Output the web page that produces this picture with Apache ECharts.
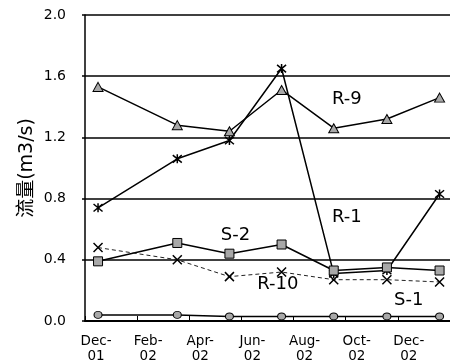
<!DOCTYPE html>
<html>
<head>
<meta charset="utf-8">
<script src="https://cdn.jsdelivr.net/npm/echarts@6/dist/echarts.min.js"></script>
<style>html,body{margin:0;padding:0;background:#fff;}#c{width:450px;height:364px;}</style>
</head>
<body>
<div id="c"></div>
<script>
// x positions: months after 1 Dec 2001 (sampling dates)
var months = [0.5, 3.54, 5.54, 7.54, 9.54, 11.58, 13.6];
// tick labels every 2 months from Dec-01
var tickLabels = ['Dec-\n01', 'Feb-\n02', 'Apr-\n02', 'Jun-\n02', 'Aug-\n02', 'Oct-\n02', 'Dec-\n02'];
var yTicks = [0, 0.4, 0.8, 1.2, 1.6, 2.0];

var R9  = [1.53, 1.28, 1.24, 1.51, 1.26, 1.32, 1.46];
var R1  = [0.74, 1.06, 1.18, 1.65, 0.31, 0.33, 0.83];
var S2  = [0.39, 0.51, 0.44, 0.50, 0.33, 0.35, 0.33];
var R10 = [0.48, 0.40, 0.29, 0.32, 0.27, 0.27, 0.255];
var S1  = [0.04, 0.04, 0.03, 0.03, 0.03, 0.03, 0.03];

var seriesNames = ['R-9', 'R-1', 'S-2', 'R-10', 'S-1'];
// series label anchors, in data units [month, flow]
var labelR9  = [10.04, 1.45];
var labelR1  = [10.04, 0.68];
var labelS2  = [5.77, 0.56];
var labelR10 = [7.4, 0.24];
var labelS1  = [12.42, 0.137];

function pts(vals){ return vals.map(function(v,i){ return [months[i], v]; }); }

var xPath = 'path://M0,0L10,10M10,0L0,10';
var starPath = 'path://M0,0L10,10M10,0L0,10M5,-1L5,11';
var grey = '#a8a8a8';
var txtFont = 'DejaVu Sans';

function mark(name, pos){
  return {
    silent: true,
    symbol: 'rect', symbolSize: 1,
    itemStyle: {color: 'rgba(0,0,0,0)'},
    label: {show: true, position: 'inside', formatter: name, color: '#000',
            fontFamily: txtFont, fontSize: 18},
    data: [{coord: pos}]
  };
}

var chart = echarts.init(document.getElementById('c'), null, {renderer: 'canvas'});
chart.setOption({
  animation: false,
  backgroundColor: '#fff',
  grid: {left: 85, right: 0, top: 15, bottom: 43, containLabel: false, outerBoundsMode: 'none'},
  xAxis: {
    type: 'value', min: 0, max: 14, interval: 2,
    axisLine: {show: true, lineStyle: {color: '#000', width: 2}},
    axisTick: {show: true, inside: true, length: 5, lineStyle: {color: '#000', width: 1}},
    splitLine: {show: false},
    axisLabel: {
      margin: 13, color: '#000', fontFamily: txtFont, fontSize: 13.5, lineHeight: 15,
      align: 'center', padding: [0, 0, 0, 22],
      formatter: function(v){ var i = Math.round(v/2); return i < tickLabels.length ? tickLabels[i] : ''; }
    }
  },
  yAxis: {
    type: 'value', min: yTicks[0], max: yTicks[yTicks.length-1], interval: 0.4,
    name: '流量(m3/s)', nameLocation: 'middle', nameRotate: 90, nameGap: 48, nameMoveOverlap: false,
    nameTextStyle: {color: '#000', fontSize: 19, fontFamily: 'DejaVu Sans, Noto Sans CJK SC'},
    axisLine: {show: true, lineStyle: {color: '#000', width: 1.5}},
    axisTick: {show: true, inside: false, length: 3, lineStyle: {color: '#000', width: 1.5}},
    splitLine: {show: true, lineStyle: {color: '#000', width: 1.5}},
    axisLabel: {margin: 19, color: '#000', fontFamily: txtFont, fontSize: 14,
      formatter: function(v){ return v.toFixed(1); }}
  },
  series: [
    {name: seriesNames[0], type: 'line', data: pts(R9), symbol: 'triangle', symbolSize: [10, 9],
     lineStyle: {color: '#000', width: 1.5}, itemStyle: {color: grey, borderColor: '#000', borderWidth: 1},
     markPoint: mark(seriesNames[0], labelR9)},
    {name: seriesNames[1], type: 'line', data: pts(R1), symbol: starPath, symbolSize: 9,
     lineStyle: {color: '#000', width: 1.5}, itemStyle: {color: '#000', borderColor: '#000', borderWidth: 1.5},
     markPoint: mark(seriesNames[1], labelR1)},
    {name: seriesNames[2], type: 'line', data: pts(S2), symbol: 'rect', symbolSize: 9,
     lineStyle: {color: '#000', width: 1.5}, itemStyle: {color: grey, borderColor: '#000', borderWidth: 1},
     markPoint: mark(seriesNames[2], labelS2)},
    {name: seriesNames[3], type: 'line', data: pts(R10), symbol: xPath, symbolSize: 9,
     lineStyle: {color: '#222', width: 1, type: [4, 3]}, itemStyle: {color: '#000', borderColor: '#000', borderWidth: 1.5},
     markPoint: mark(seriesNames[3], labelR10)},
    {name: seriesNames[4], type: 'line', data: pts(S1), symbol: 'circle', symbolSize: [8, 7],
     lineStyle: {color: '#000', width: 1.5}, itemStyle: {color: grey, borderColor: '#000', borderWidth: 1},
     markPoint: mark(seriesNames[4], labelS1)}
  ]
});
</script>
</body>
</html>
